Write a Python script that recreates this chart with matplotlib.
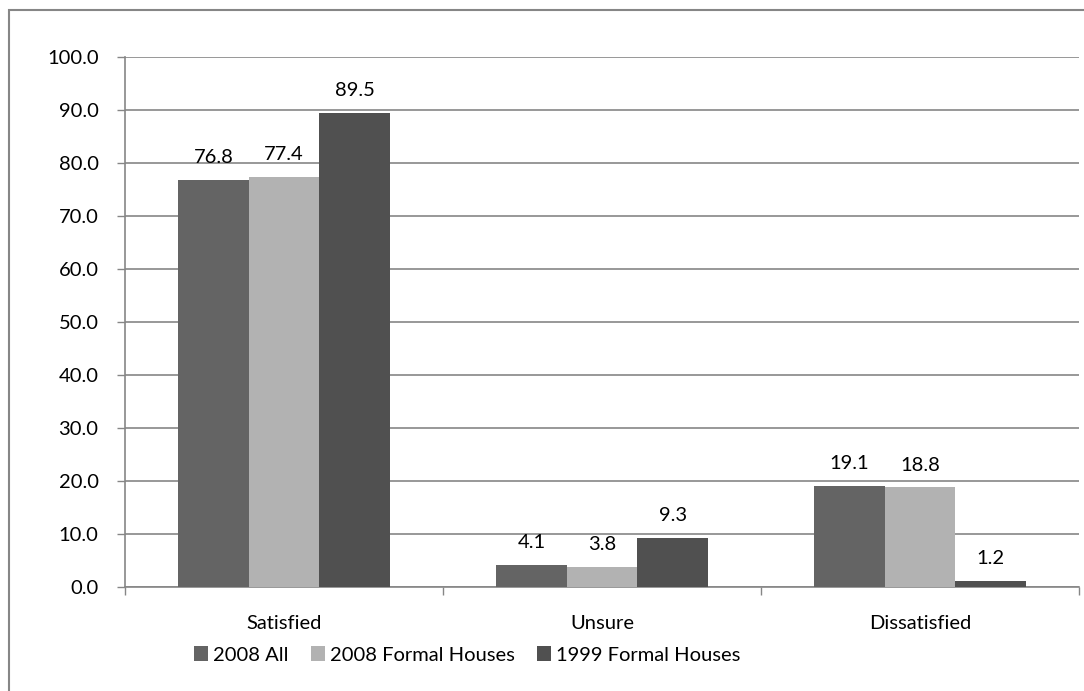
import numpy as np
import matplotlib
matplotlib.use("Agg")
import matplotlib.pyplot as plt
from matplotlib.patches import Rectangle

# ---- data ----------------------------------------------------------------
categories = ["Satisfied", "Unsure", "Dissatisfied"]
series_names = ["2008 All", "2008 Formal Houses", "1999 Formal Houses"]
all_2008 = [76.8, 4.1, 19.1]
formal_2008 = [77.4, 3.8, 18.8]
formal_1999 = [89.5, 9.3, 1.2]
y_ticks = [0, 10, 20, 30, 40, 50, 60, 70, 80, 90, 100]

colors = ["#646464", "#b2b2b2", "#505050"]
axis_grey = "#868686"
FS = 14.5

plt.rcParams["font.family"] = ["Lato", "DejaVu Sans"]

fig = plt.figure(figsize=(10.84, 6.91), dpi=100)
ax = fig.add_axes([125 / 1084, 1 - 587 / 691, 954 / 1084, 530 / 691])

# outer chart frame (runs off the right and bottom edge)
fig.patches.append(Rectangle((9 / 1084, -0.05), 1.2, 1 - 10 / 691 + 0.05,
                             transform=fig.transFigure, fill=False,
                             edgecolor=axis_grey, linewidth=1.5))

x = np.arange(len(categories))
width = 0.222
for i, (name, vals) in enumerate(zip(series_names, [all_2008, formal_2008, formal_1999])):
    pos = x + (i - 1) * width
    ax.bar(pos, vals, width=width, color=colors[i], label=name, zorder=3)
    for px, v in zip(pos, vals):
        ax.text(px, v + 2.6, f"{v:.1f}", ha="center", va="bottom", fontsize=FS)

ax.set_xlim(-0.5, 2.5)
ax.set_ylim(0, 100)
ax.set_yticks(y_ticks)
ax.set_yticklabels([f"{t:.1f}" for t in y_ticks], fontsize=FS)
ax.yaxis.grid(True, color=axis_grey, linewidth=1.2, zorder=0)

# category labels centred, tick marks on the group boundaries
ax.set_xticks(x)
ax.set_xticklabels(categories, fontsize=FS)
ax.tick_params(axis="x", length=0, pad=20)
ax.set_xticks([-0.5, 0.5, 1.5, 2.5], minor=True)
ax.tick_params(axis="x", which="minor", length=6, color=axis_grey, width=1.0)
ax.tick_params(axis="y", length=6, color=axis_grey, width=1.0, pad=13)

for side in ["top", "right"]:
    ax.spines[side].set_visible(False)
for side in ["left", "bottom"]:
    ax.spines[side].set_color(axis_grey)
    ax.spines[side].set_linewidth(1.2)

leg = fig.legend(loc="center", bbox_to_anchor=(467 / 1084, 1 - 655 / 691),
                 ncol=3, frameon=False, fontsize=FS, handlelength=0.7,
                 handleheight=0.7, handletextpad=0.25, columnspacing=1.1)

fig.savefig("out.png", dpi=100)
